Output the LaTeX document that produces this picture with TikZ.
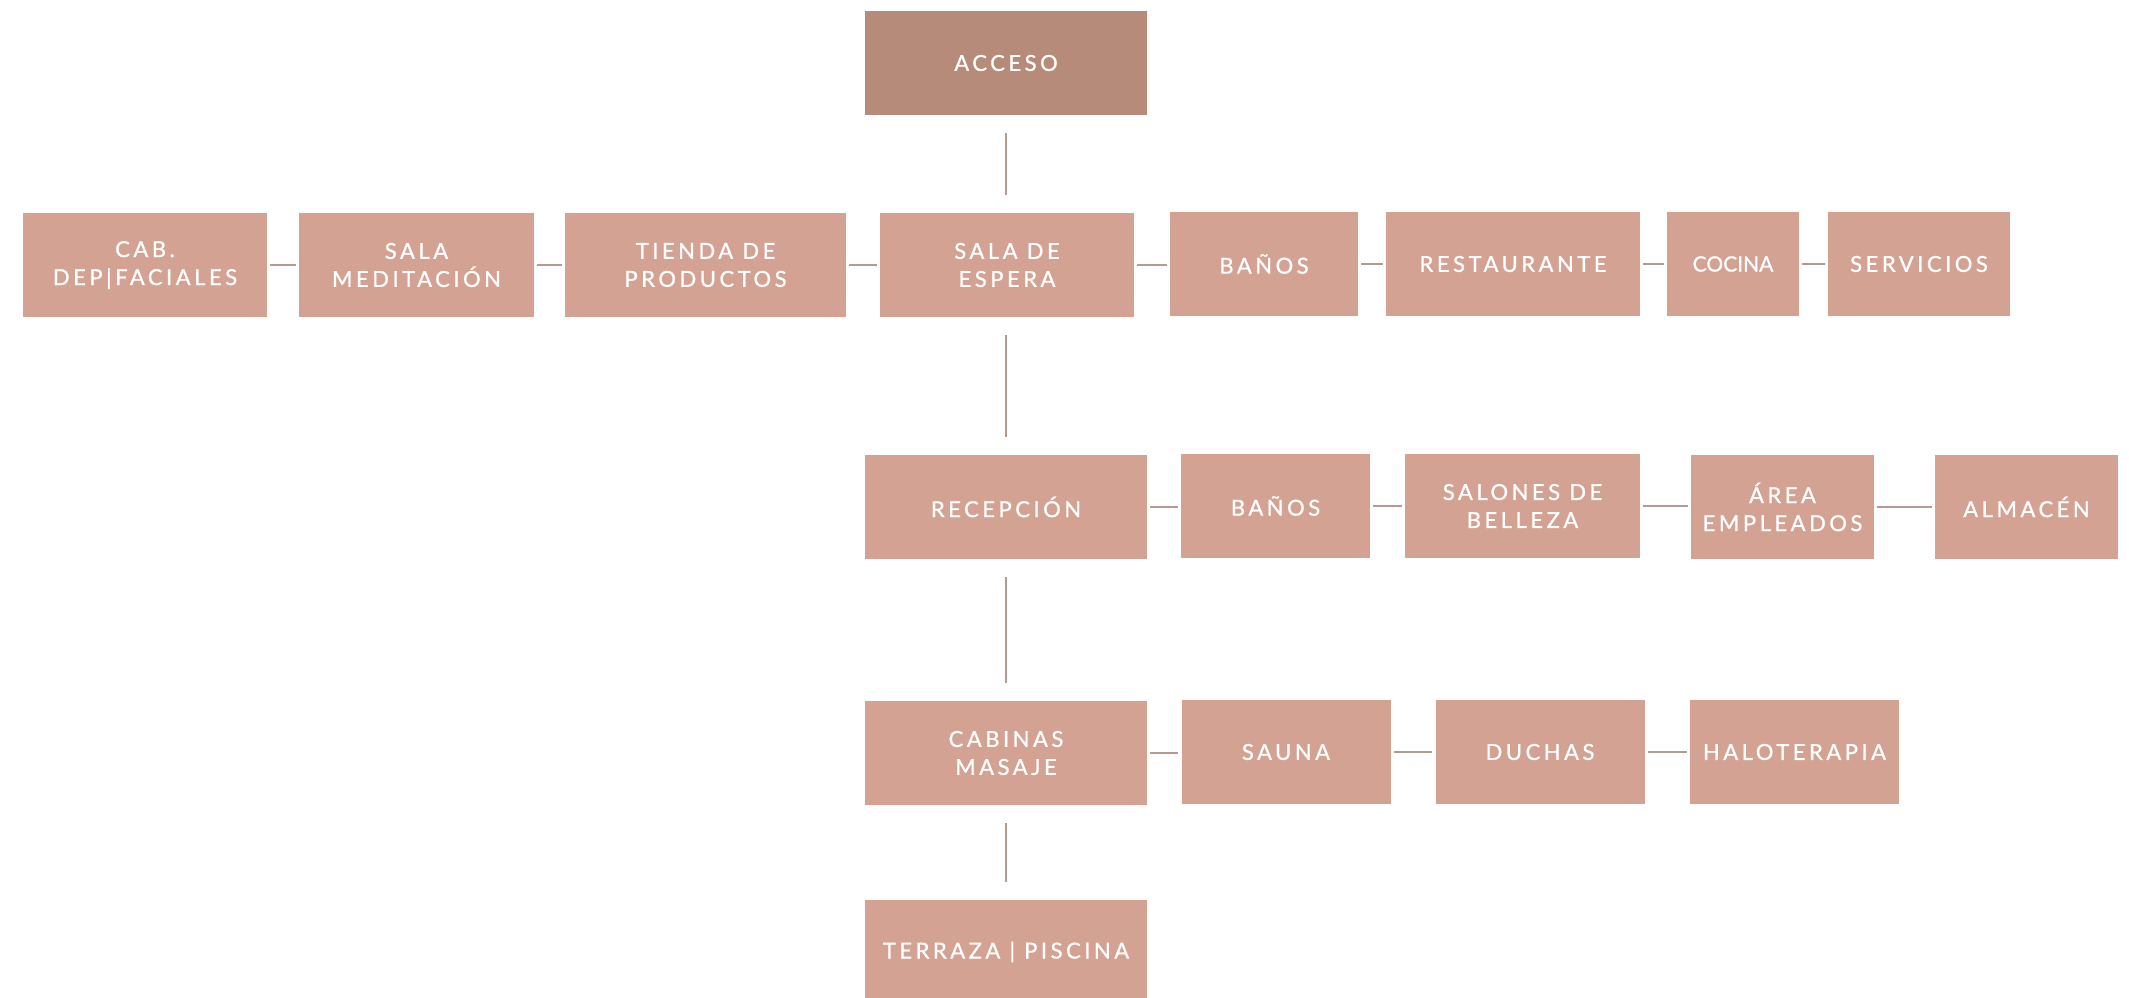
\documentclass[tikz,border=0pt]{standalone}
\usepackage{fontspec}
\newfontfamily\boxfont[LetterSpace=16,FakeBold=1]{Lato}
\newfontfamily\tightfont[FakeBold=1]{Lato}
\definecolor{boxc}{HTML}{D4A293}
\definecolor{topc}{HTML}{B78B7A}
\definecolor{linec}{HTML}{B49A8F}
\begin{document}
\begin{tikzpicture}[x=1pt,y=-1pt,
  box/.style={rectangle, fill=boxc, inner sep=0pt, minimum height=104pt,
    text=white, align=center, font={\boxfont\fontsize{22}{28}\selectfont}},
  hlink/.style={draw=linec, line width=2.8pt, shorten <=3pt, shorten >=3pt},
  vlink/.style={draw=linec, line width=2pt, shorten <=18pt, shorten >=18pt}]
\clip (0,0) rectangle (2129,998);
\useasboundingbox (0,0) rectangle (2129,998);
\fill[white] (0,0) rectangle (2129,998);

% top
\node[box, fill=topc, minimum width=282pt] (acceso) at (1006,63) {ACCESO};

% row 1
\node[box, minimum width=244pt] (cab) at (145,265) {CAB.\\DEP|FACIALES};
\node[box, minimum width=235pt] (med) at (416.5,265) {SALA\\MEDITACIÓN};
\node[box, minimum width=281pt] (tienda) at (705.5,265) {TIENDA DE\\PRODUCTOS};
\node[box, minimum width=254pt] (espera) at (1007,265) {SALA DE\\ESPERA};
\node[box, minimum width=188pt] (banos1) at (1264,264) {BAÑOS};
\node[box, minimum width=254pt] (rest) at (1513,264) {RESTAURANTE};
\node[box, minimum width=132pt, font={\tightfont\fontsize{21}{28}\selectfont}] (cocina) at (1733,264) {COCINA};
\node[box, minimum width=182pt] (serv) at (1919,264) {SERVICIOS};

% row 2
\node[box, minimum width=282pt] (recep) at (1006,507) {RECEPCIÓN};
\node[box, minimum width=189pt] (banos2) at (1275.5,506) {BAÑOS};
\node[box, minimum width=235pt] (salones) at (1522.5,506) {SALONES DE\\BELLEZA};
\node[box, minimum width=183pt] (area) at (1782.5,507) {ÁREA\\EMPLEADOS};
\node[box, minimum width=183pt] (almacen) at (2026.5,507) {ALMACÉN};

% row 3
\node[box, minimum width=282pt] (cabinas) at (1006,753) {CABINAS\\MASAJE};
\node[box, minimum width=209pt] (sauna) at (1286,752) {SAUNA};
\node[box, minimum width=209pt] (duchas) at (1540,752) {DUCHAS};
\node[box, minimum width=209pt] (halo) at (1794.5,752) {HALOTERAPIA};

% bottom
\node[box, minimum width=282pt] (terraza) at (1006,952) {TERRAZA | PISCINA};

% vertical links
\draw[vlink] (acceso.south) -- (acceso.south |- espera.north);
\draw[vlink] (espera.south -| acceso.south) -- (acceso.south |- recep.north);
\draw[vlink] (recep.south) -- (cabinas.north);
\draw[vlink] (cabinas.south) -- (terraza.north);

% horizontal links
\draw[hlink] (cab.east) -- (med.west);
\draw[hlink] (med.east) -- (tienda.west);
\draw[hlink] (tienda.east) -- (espera.west);
\draw[hlink] (espera.east) -- (espera.east -| banos1.west);
\draw[hlink] (banos1.east) -- (rest.west);
\draw[hlink] (rest.east) -- (cocina.west);
\draw[hlink] (cocina.east) -- (serv.west);

\draw[hlink] (recep.east) -- (recep.east -| banos2.west);
\draw[hlink] (banos2.east) -- (salones.west);
\draw[hlink] (salones.east) -- (salones.east -| area.west);
\draw[hlink] (area.east) -- (almacen.west);

\draw[hlink] (cabinas.east) -- (cabinas.east -| sauna.west);
\draw[hlink] (sauna.east) -- (duchas.west);
\draw[hlink] (duchas.east) -- (halo.west);
\end{tikzpicture}
\end{document}
